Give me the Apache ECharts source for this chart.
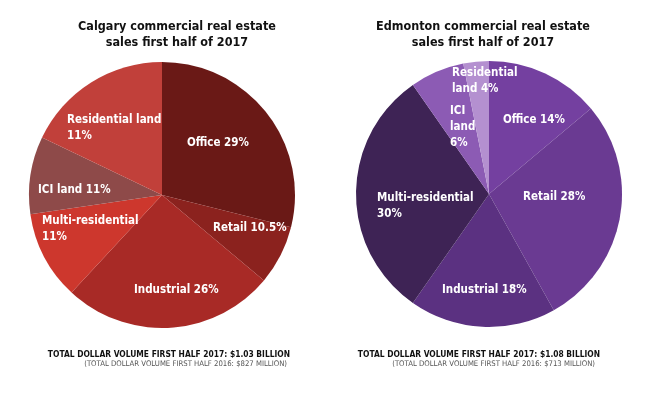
<!DOCTYPE html>
<html>
<head>
<meta charset="utf-8">
<script src="https://cdn.jsdelivr.net/npm/echarts@6/dist/echarts.min.js"></script>
<style>
  html, body { margin: 0; padding: 0; background: #fff; }
  #chart { width: 652px; height: 397px; }
</style>
</head>
<body>
<div id="chart"></div>
<script>
// slice categories (same order for both cities, clockwise from 12 o'clock)
var categories = ['Office', 'Retail', 'Industrial', 'Multi-residential', 'ICI land', 'Residential land'];

// slice sizes as drawn in the picture (share of the circle, %)
var calgaryValues = [28.9, 7.2, 25.8, 10.8, 9.4, 17.9];
var edmontonValues = [13.9, 28.0, 17.8, 30.6, 6.6, 3.1];

// percentages printed on the slices
var calgaryLabels = ['Office 29%', 'Retail 10.5%', 'Industrial 26%', 'Multi-residential\n11%', 'ICI land 11%', 'Residential land\n11%'];
var edmontonLabels = ['Office 14%', 'Retail 28%', 'Industrial 18%', 'Multi-residential\n30%', 'ICI\nland\n6%', 'Residential\nland 4%'];

var calgaryColors = ['#6a1916', '#8b221e', '#a82a26', '#cd372d', '#8e4a49', '#c1403a'];
var edmontonColors = ['#7440a0', '#6a3a92', '#5b3181', '#3e2355', '#8c5bb4', '#b490d0'];

// where each label sits (left edge, vertical middle)
var calgaryLabelPos = [[187, 143], [213, 228], [134, 290], [42, 229], [38, 190], [67, 128]];
var edmontonLabelPos = [[503, 120], [523, 197], [442, 290], [377, 206], [450, 127], [452, 81]];

var font = '"DejaVu Sans Condensed", "Liberation Sans Narrow", sans-serif';

function pieSeries(values, labels, colors, labelPos, center) {
  return {
    type: 'pie',
    center: center,
    radius: 133,
    startAngle: 90,
    clockwise: true,
    silent: true,
    animation: false,
    itemStyle: { borderWidth: 0 },
    label: {
      show: true,
      position: 'inside',
      color: '#fff',
      fontFamily: font,
      fontWeight: 'bold',
      fontSize: 11.5,
      lineHeight: 16,
      align: 'left',
      formatter: function (p) { return labels[p.dataIndex]; }
    },
    labelLine: { show: false },
    labelLayout: function (p) {
      var pos = labelPos[p.dataIndex];
      return { x: pos[0], y: pos[1], align: 'left', verticalAlign: 'middle' };
    },
    data: categories.map(function (c, i) {
      return { name: c, value: values[i], itemStyle: { color: colors[i] } };
    })
  };
}

function txt(x, y, text, size, weight, color, align) {
  return {
    type: 'text', x: x, y: y, silent: true,
    style: {
      text: text, fontFamily: font, fontSize: size, fontWeight: weight,
      fill: color, align: align, verticalAlign: 'middle'
    }
  };
}

var chart = echarts.init(document.getElementById('chart'), null, { renderer: 'canvas' });
chart.setOption({
  backgroundColor: '#fff',
  animation: false,
  graphic: [
    txt(177, 27, 'Calgary commercial real estate', 12.5, 'bold', '#111', 'center'),
    txt(177, 42.5, 'sales first half of 2017', 12.5, 'bold', '#111', 'center'),
    txt(483, 27, 'Edmonton commercial real estate', 12.5, 'bold', '#111', 'center'),
    txt(483, 42.5, 'sales first half of 2017', 12.5, 'bold', '#111', 'center'),
    txt(290, 355, 'TOTAL DOLLAR VOLUME FIRST HALF 2017: $1.03 BILLION', 8.4, 'bold', '#111', 'right'),
    txt(287, 364.5, '(TOTAL DOLLAR VOLUME FIRST HALF 2016: $827 MILLION)', 7.7, 'normal', '#555', 'right'),
    txt(600, 355, 'TOTAL DOLLAR VOLUME FIRST HALF 2017: $1.08 BILLION', 8.4, 'bold', '#111', 'right'),
    txt(595, 364.5, '(TOTAL DOLLAR VOLUME FIRST HALF 2016: $713 MILLION)', 7.7, 'normal', '#555', 'right')
  ],
  series: [
    pieSeries(calgaryValues, calgaryLabels, calgaryColors, calgaryLabelPos, [162, 195]),
    pieSeries(edmontonValues, edmontonLabels, edmontonColors, edmontonLabelPos, [489, 194])
  ]
});
</script>
</body>
</html>
